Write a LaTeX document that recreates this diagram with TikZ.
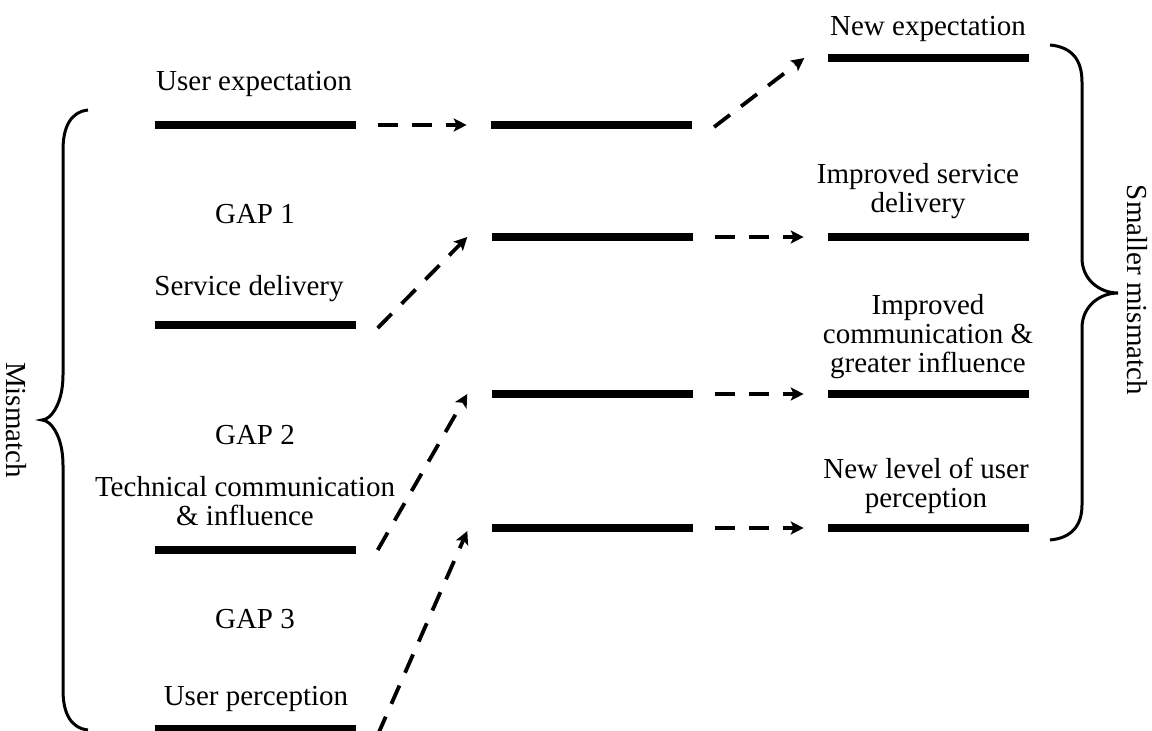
\documentclass[tikz,border=0pt]{standalone}
\usepackage{fontspec}
\setmainfont{Liberation Serif}
\usetikzlibrary{arrows.meta,positioning}

\begin{document}
\begin{tikzpicture}[x=1pt,y=-1pt,node distance=135pt]
  \tikzstyle{bar}=[fill=black,minimum width=201pt,minimum height=8pt,inner sep=0pt]
  \tikzstyle{lbl}=[font=\fontsize{29}{29}\selectfont,align=center,inner sep=0pt]
  \tikzstyle{dasharrow}=[line width=3.8pt,dash pattern=on 20pt off 14pt,-{Stealth[length=13pt,width=13pt,inset=3pt]}]
  \useasboundingbox (0,0) rectangle (1152,731);
  % current situation
  \node[bar] (ue) at (255,125) {};
  \node[bar] (sd) at (255,325) {};
  \node[bar] (tc) at (255,550) {};
  \node[bar] (up) at (255,729) {};
  % shifted levels
  \node[bar,right=of ue] (m1) {};
  \node[bar] (m2) at (592,237) {};
  \node[bar] (m3) at (592,394) {};
  \node[bar] (m4) at (592,528) {};
  % improved situation
  \node[bar] (r1) at (928,58) {};
  \node[bar,right=of m2] (r2) {};
  \node[bar,right=of m3] (r3) {};
  \node[bar,right=of m4] (r4) {};
  % labels (multi-line ones sit on their last line)
  \node[lbl,anchor=base] (uel) at (254,90) {User expectation};
  \node[lbl,anchor=base] (g1) at (255,223) {GAP 1};
  \node[lbl,anchor=base] (sdl) at (249,295) {Service delivery};
  \node[lbl,anchor=base] (g2) at (255,444) {GAP 2};
  \node[lbl,anchor=base] (tcl) at (245,525) {Technical communication\\\& influence};
  \node[lbl,anchor=base] (g3) at (255,628) {GAP 3};
  \node[lbl,anchor=base] (upl) at (256,705) {User perception};
  \node[lbl,anchor=base] (r1l) at (928,35) {New expectation};
  \node[lbl,anchor=base] (r2l) at (918,212) {Improved service\\delivery};
  \node[lbl,anchor=base] (r3l) at (928,372) {Improved\\communication \&\\greater influence};
  \node[lbl,anchor=base] (r4l) at (926,507) {New level of user\\perception};
  \node[lbl,rotate=-90] (mm) at (16,420) {Mismatch};
  \node[lbl,rotate=-90] (smm) at (1137,290) {Smaller mismatch};
  % dashed moves
  \draw[dasharrow] ([xshift=22pt]ue.east) -- ([xshift=-24pt]m1.west);
  \draw[dasharrow] ([xshift=22pt,yshift=-3pt]sd.east) -- ([xshift=-24pt]m2.west);
  \draw[dasharrow] ([xshift=22pt]tc.east) -- ([xshift=-24pt]m3.west);
  \draw[dasharrow] ([xshift=22pt,yshift=-6pt]up.east) -- ([xshift=-24pt,yshift=-3pt]m4.west);
  \draw[dasharrow] ([xshift=22pt,yshift=-2pt]m1.east) -- ([xshift=-23pt]r1.west);
  \draw[dasharrow] ([xshift=22pt]m2.east) -- ([xshift=-24pt]r2.west);
  \draw[dasharrow] ([xshift=22pt]m3.east) -- ([xshift=-24pt]r3.west);
  \draw[dasharrow] ([xshift=22pt]m4.east) -- ([xshift=-24pt]r4.west);
  % braces
  \draw[line width=3pt] (88,110) .. controls (70,112) and (63,128) .. (63,150) -- (63,375)
    .. controls (63,405) and (50,420) .. (42,420) .. controls (50,420) and (63,435) .. (63,465)
    -- (63,690) .. controls (63,712) and (70,728) .. (88,730);
  \draw[line width=3pt] (1050,45) .. controls (1072,47) and (1082,60) .. (1082,82) -- (1082,258)
    .. controls (1082,280) and (1100,293) .. (1118,293) .. controls (1100,293) and (1082,306) .. (1082,328)
    -- (1082,505) .. controls (1082,525) and (1072,538) .. (1050,540);
\end{tikzpicture}
\end{document}
